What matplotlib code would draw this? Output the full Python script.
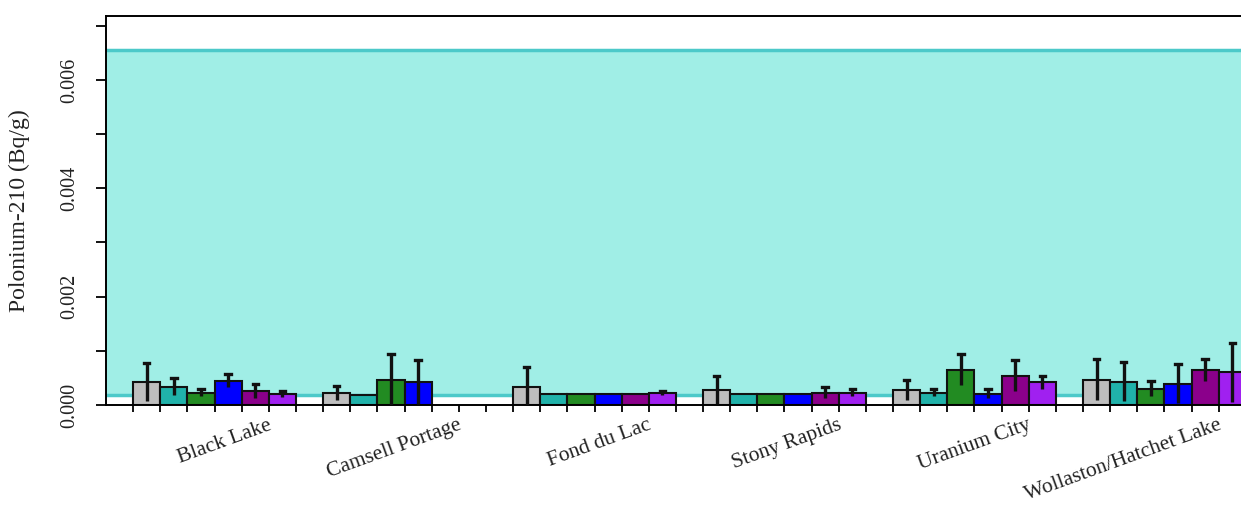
import numpy as np
import matplotlib.pyplot as plt

plt.rcParams['font.family'] = ['Liberation Serif', 'DejaVu Serif']

# Communities and series (colours in R order)
sites = ["Black Lake", "Camsell Portage", "Fond du Lac", "Stony Rapids",
         "Uranium City", "Wollaston/Hatchet Lake"]
colors = ['#BEBEBE', '#20B2AA', '#228B22', '#0000FF', '#8B008B', '#A020F0']

# Mean Po-210 (Bq/g) per site, one row per site, one column per series
means = np.array([
    [0.00043, 0.00034, 0.00023, 0.00045, 0.00026, 0.00020],
    [0.00022, 0.00018, 0.00047, 0.00042, np.nan, np.nan],
    [0.00034, 0.00020, 0.00020, 0.00020, 0.00020, 0.00022],
    [0.00028, 0.00020, 0.00020, 0.00020, 0.00023, 0.00023],
    [0.00028, 0.00023, 0.00065, 0.00021, 0.00054, 0.00042],
    [0.00047, 0.00043, 0.00030, 0.00039, 0.00065, 0.00060],
])
# upper end of error bars
upper = np.array([
    [0.00078, 0.00050, 0.00029, 0.00057, 0.00039, 0.00025],
    [0.00035, 0.00019, 0.00094, 0.00083, np.nan, np.nan],
    [0.00070, 0.00020, 0.00020, 0.00020, 0.00020, 0.00026],
    [0.00054, 0.00020, 0.00020, 0.00020, 0.00034, 0.00029],
    [0.00046, 0.00030, 0.00094, 0.00029, 0.00083, 0.00054],
    [0.00085, 0.00079, 0.00044, 0.00075, 0.00085, 0.00115],
])

# reference range shown as shaded band
band_low, band_high = 0.00018, 0.00655

fig = plt.figure(figsize=(12.41, 5.08), dpi=100)
ax = fig.add_axes([106/1241, 103/508, 1184/1241, 389/508])

ax.axhspan(band_low, band_high, color='#A0EEE6', lw=0, zorder=0)
ax.axhline(band_low, color='#4CC9C9', lw=2.5, zorder=1)
ax.axhline(band_high, color='#4CC9C9', lw=2.5, zorder=1)

n_grp, n_ser = means.shape
for i in range(n_grp):
    for j in range(n_ser):
        x = 7 * i + 1.5 + j
        m = means[i, j]
        if np.isnan(m):
            continue
        ax.bar(x, m, width=1.0, color=colors[j], edgecolor='#111111',
               linewidth=1.5, zorder=2)
        err = upper[i, j] - m
        if err > 0.000015:
            ax.plot([x, x], [m - err, m + err], color='#111111', lw=2.4,
                    zorder=3, solid_capstyle='butt')
            ax.plot([x - 0.1, x + 0.1], [m + err, m + err], color='#111111',
                    lw=2.4, zorder=3)

# ticks at every bar edge
edges = [7 * i + k for i in range(n_grp) for k in range(1, 8)]
ax.set_xticks(edges)
ax.set_xticklabels([])
ax.tick_params(axis='x', length=5, width=1.3, direction='out')

for i, s in enumerate(sites):
    ax.text(7 * i + 4 + 1.95, -0.0002, s, rotation=20, ha='right', va='top',
            rotation_mode='anchor', fontsize=15.5, color='#222222')

ax.set_xlim(0, 1184 / 27.14)
ax.set_ylim(0, 0.00718)
ax.set_yticks([0.000, 0.002, 0.004, 0.006])
ax.set_yticks([0.001, 0.003, 0.005, 0.007], minor=True)
ax.set_yticklabels(['0.000', '0.002', '0.004', '0.006'], rotation=90,
                   va='center', fontsize=14.5, color='#222222')
ax.tick_params(axis='y', which='both', length=7, width=1.3, pad=12)
ax.set_ylabel('Polonium-210 (Bq/g)', fontsize=17, labelpad=22, color='#222222')

for sp in ax.spines.values():
    sp.set_linewidth(1.4)

fig.savefig('out.png', dpi=100)
